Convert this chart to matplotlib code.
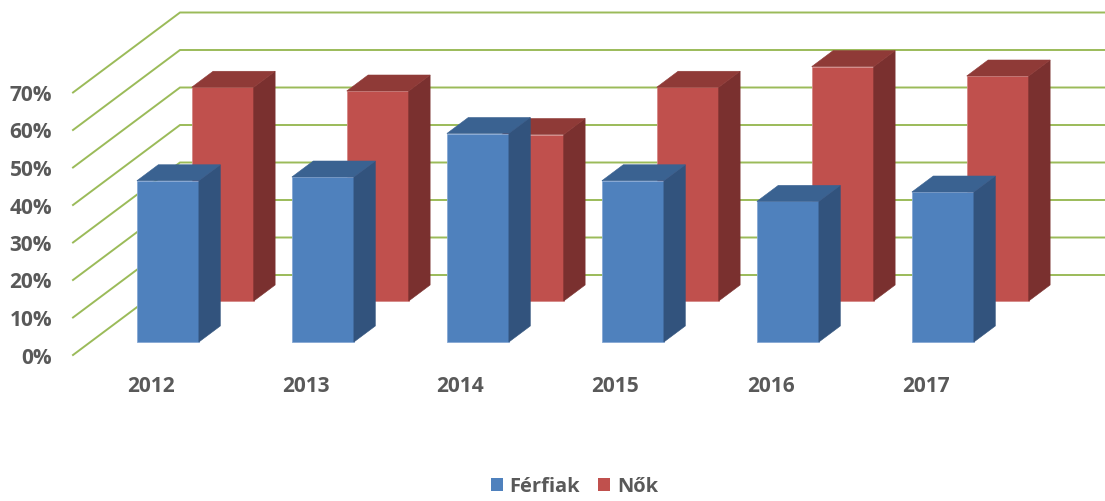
import matplotlib
matplotlib.use("Agg")
import matplotlib.pyplot as plt
from matplotlib.patches import Polygon, Patch

plt.rcParams["font.family"] = ["Open Sans", "DejaVu Sans"]

# data (shares in %)
years = ["2012", "2013", "2014", "2015", "2016", "2017"]
ferfiak = [43.0, 44.0, 55.6, 43.0, 37.5, 40.0]
nok = [57.0, 56.0, 44.4, 57.0, 62.5, 60.0]
y_ticks = [0, 10, 20, 30, 40, 50, 60, 70]
series_names = ["Férfiak", "Nők"]

# fake 3D projection: full depth shifts by DX categories and DY percent
DX = 107 / 155
DY = 80 / 3.75
BAR_W = 0.4

TEXT = "#595959"
GRID = "#9BBB59"
# front, side, top, edge
BLUE = ("#4F81BD", "#32537D", "#3A6291", "#86A8D4")
RED = ("#C0504D", "#7A302F", "#8F3A37", "#D58886")


def draw_bar(ax, center, value, d0, d1, colors, z):
    front, side, top, edge = colors
    xl = center - BAR_W / 2
    xr = center + BAR_W / 2
    ax.bar(center + d0 * DX, value, width=BAR_W, bottom=d0 * DY, color=front,
           edgecolor=edge, linewidth=0.6, zorder=z)
    side_pts = [(xr + d0 * DX, d0 * DY), (xr + d1 * DX, d1 * DY),
                (xr + d1 * DX, value + d1 * DY), (xr + d0 * DX, value + d0 * DY)]
    top_pts = [(xl + d0 * DX, value + d0 * DY), (xr + d0 * DX, value + d0 * DY),
               (xr + d1 * DX, value + d1 * DY), (xl + d1 * DX, value + d1 * DY)]
    ax.add_patch(Polygon(side_pts, closed=True, facecolor=side, edgecolor=side, lw=0.4, zorder=z))
    ax.add_patch(Polygon(top_pts, closed=True, facecolor=top, edgecolor=top, lw=0.4, zorder=z))


def make_chart(output_path):
    fig = plt.figure(figsize=(11.05, 5.01), dpi=100)
    ax = fig.add_axes([0, 0, 1, 1])
    ax.set_xlim(-73 / 155, 1032 / 155)
    ax.set_ylim(-146 / 3.75, 355 / 3.75)
    ax.set_axis_off()

    # gridlines: side wall diagonals + back wall horizontals
    for t in y_ticks:
        ax.plot([0, DX, 10], [t, t + DY, t + DY], color=GRID, lw=1.4, zorder=1,
                solid_joinstyle="miter")
        ax.text(-0.135, t - 0.8, f"{t}%", ha="right", va="center", fontsize=15,
                fontweight="bold", color=TEXT)

    # back row (Nők) then front row (Férfiak)
    for i, v in enumerate(nok):
        draw_bar(ax, i + 0.5, v, 54 / 80, 70 / 80, RED, 2)
    for i, v in enumerate(ferfiak):
        draw_bar(ax, i + 0.5, v, 13 / 80, 29 / 80, BLUE, 3)

    for i, y in enumerate(years):
        ax.text(i + 0.5, -8.3, y, ha="center", va="center", fontsize=15,
                fontweight="bold", color=TEXT)

    handles = [Patch(facecolor=BLUE[0], label=series_names[0]),
               Patch(facecolor=RED[0], label=series_names[1])]
    leg = fig.legend(handles=handles, loc="center", bbox_to_anchor=(0.52, 0.028), ncol=2,
                     frameon=False, handlelength=0.6, handleheight=0.6, handletextpad=0.35,
                     columnspacing=0.9, prop={"size": 14.5, "weight": "bold"})
    for t in leg.get_texts():
        t.set_color(TEXT)

    fig.savefig(output_path, dpi=100)


if __name__ == "__main__":
    make_chart("out.png")
